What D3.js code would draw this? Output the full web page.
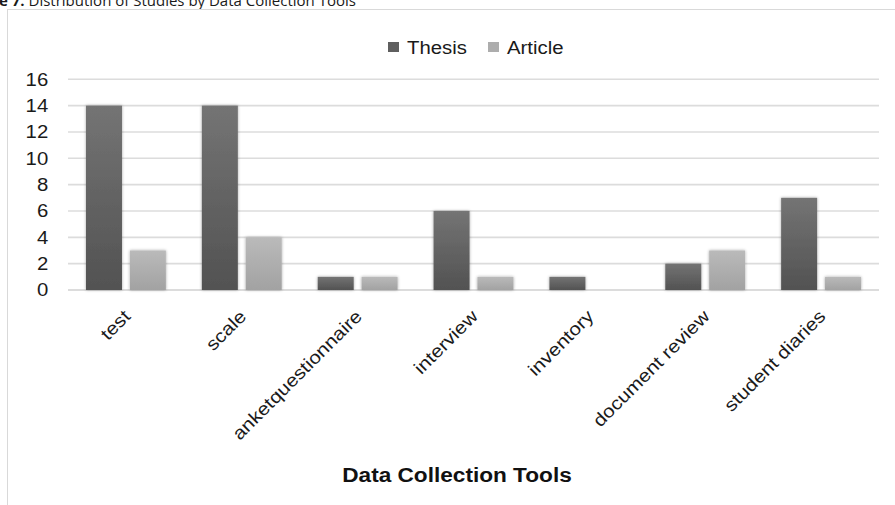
<!DOCTYPE html>
<meta charset="utf-8">
<script src="https://d3js.org/d3.v7.min.js"></script>
<style>
  body { margin: 0; background: #fff; }
  svg { display: block; }
</style>
<div id="my_dataviz"></div>
<script>

  // data
  var categories = ["test", "scale", "anketquestionnaire", "interview", "inventory", "document review", "student diaries"];
  var series = ["Thesis", "Article"];
  var thesis = [14, 14, 1, 6, 1, 2, 7];
  var article = [3, 4, 1, 1, 0, 3, 1];
  var yTicks = [0, 2, 4, 6, 8, 10, 12, 14, 16];

  var rows = categories.map(function(c, i) {
    return { cat: c, values: [
      { key: "Thesis", value: thesis[i] },
      { key: "Article", value: article[i] }
    ] };
  });

  var W = 895, H = 505;
  var plot = { left: 68, right: 879, top: 79.3, bottom: 290 };
  var sx = 1.13; // text in the picture runs a bit wide

  var svg = d3.select("#my_dataviz")
    .append("svg")
      .attr("width", W)
      .attr("height", H);

  var defs = svg.append("defs");
  function grad(id, top, bottom) {
    var g = defs.append("linearGradient")
        .attr("id", id)
        .attr("x1", 0).attr("y1", 0).attr("x2", 0).attr("y2", 1);
    g.append("stop").attr("offset", "0%").attr("stop-color", top);
    g.append("stop").attr("offset", "100%").attr("stop-color", bottom);
  }
  grad("g-thesis", "#747474", "#525252");
  grad("g-article", "#bababa", "#a2a2a2");
  var color = { Thesis: "url(#g-thesis)", Article: "url(#g-article)" };
  var flat = { Thesis: "#5f5f5f", Article: "#adadad" };

  defs.append("filter")
      .attr("id", "shadow")
      .attr("x", "-30%").attr("y", "-30%").attr("width", "160%").attr("height", "160%")
    .append("feDropShadow")
      .attr("dx", 0).attr("dy", 0)
      .attr("stdDeviation", 1.6)
      .attr("flood-color", "#000")
      .attr("flood-opacity", 0.35);

  // figure caption, cut at the top of the picture
  var cap = svg.append("text")
      .attr("x", -1)
      .attr("y", 5.5)
      .style("font-family", "'Open Sans', sans-serif")
      .style("font-size", "15px")
      .style("fill", "#1a1a1a");
  cap.append("tspan").style("font-weight", "bold").text("e 7.");
  cap.append("tspan").text(" Distribution of Studies by Data Collection Tools");

  // chart frame
  svg.append("rect")
      .attr("x", 7.5)
      .attr("y", 9.5)
      .attr("width", 1000)
      .attr("height", 1000)
      .attr("fill", "none")
      .attr("stroke", "#d9d9d9")
      .attr("stroke-width", 1);

  // scales
  var x0 = d3.scaleBand()
      .domain(categories)
      .range([plot.left, plot.right]);
  var x1 = d3.scaleBand()
      .domain(series)
      .range([18, x0.bandwidth() - 18])
      .paddingInner(0.18);
  var y = d3.scaleLinear()
      .domain([0, 16])
      .range([plot.bottom, plot.top]);

  // gridlines
  svg.append("g")
    .selectAll("line")
    .data(yTicks)
    .enter()
    .append("line")
      .attr("x1", plot.left)
      .attr("x2", plot.right)
      .attr("y1", function(d) { return y(d); })
      .attr("y2", function(d) { return y(d); })
      .attr("stroke", function(d) { return d === 0 ? "#d0d0d0" : "#dcdcdc"; })
      .attr("stroke-width", 1.6);

  // y axis labels
  var yAxis = svg.append("g")
      .attr("transform", "translate(" + plot.left + ",0)")
      .call(d3.axisLeft(y).tickValues(yTicks).tickSize(0).tickPadding(17.5));
  yAxis.select(".domain").remove();
  yAxis.selectAll("text")
      .style("font-family", "'Liberation Sans', Arial, sans-serif")
      .style("font-size", "18px")
      .style("fill", "#1a1a1a")
      .attr("transform", "scale(" + sx + ",1)");

  // bars
  svg.append("g")
    .selectAll("g")
    .data(rows)
    .enter()
    .append("g")
      .attr("transform", function(d) { return "translate(" + x0(d.cat) + ",0)"; })
    .selectAll("rect")
    .data(function(d) { return d.values.filter(function(v) { return v.value > 0; }); })
    .enter()
    .append("rect")
      .attr("x", function(d) { return x1(d.key); })
      .attr("y", function(d) { return y(d.value); })
      .attr("width", x1.bandwidth())
      .attr("height", function(d) { return y(0) - y(d.value); })
      .attr("fill", function(d) { return color[d.key]; })
      .attr("filter", "url(#shadow)");

  // x labels, rotated 45 degrees
  svg.append("g")
    .selectAll("text")
    .data(categories)
    .enter()
    .append("text")
      .attr("transform", function(d) {
        var cx = x0(d) + x0.bandwidth() / 2 - 4;
        return "translate(" + cx + ",308) rotate(-45) scale(1.15,1)";
      })
      .attr("text-anchor", "end")
      .attr("dy", "0.75em")
      .style("font-family", "'Liberation Sans', Arial, sans-serif")
      .style("font-size", "18px")
      .style("fill", "#1a1a1a")
      .text(function(d) { return d; });

  // axis title
  svg.append("text")
      .attr("transform", "translate(457,482) scale(1.16,1)")
      .attr("text-anchor", "middle")
      .style("font-family", "'Liberation Sans', Arial, sans-serif")
      .style("font-size", "19.5px")
      .style("font-weight", "bold")
      .style("fill", "#111")
      .text("Data Collection Tools");

  // legend
  var legX = [388, 488];
  var leg = svg.append("g")
    .selectAll("g")
    .data(series)
    .enter()
    .append("g")
      .attr("transform", function(d, i) { return "translate(" + legX[i] + ",42)"; });
  leg.append("rect")
      .attr("width", 11)
      .attr("height", 10)
      .attr("fill", function(d) { return flat[d]; });
  leg.append("text")
      .attr("transform", "translate(19,11.5) scale(" + sx + ",1)")
      .style("font-family", "'Liberation Sans', Arial, sans-serif")
      .style("font-size", "18px")
      .style("fill", "#1a1a1a")
      .text(function(d) { return d; });

</script>
